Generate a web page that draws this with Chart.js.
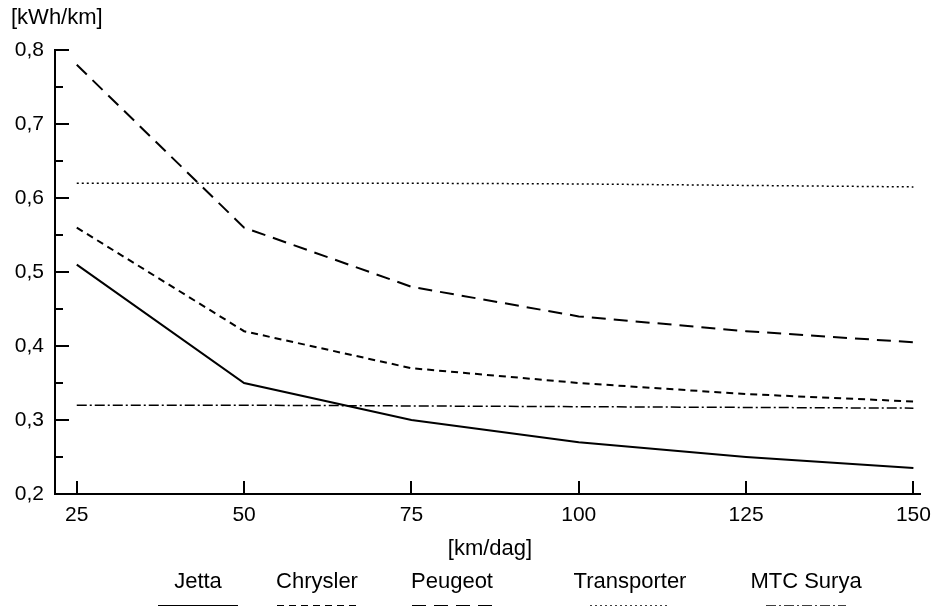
<!DOCTYPE html>
<html>
<head>
<meta charset="utf-8">
<script src="https://cdn.jsdelivr.net/npm/chart.js@4.4.1/dist/chart.umd.min.js"></script>
<style>
  html, body { margin: 0; padding: 0; background: #fff; }
  #wrap { width: 940px; height: 606px; }
</style>
</head>
<body>
<div id="wrap"><canvas id="myChart" width="940" height="606"></canvas></div>
<script>
// data
var kmPerDay = [25, 50, 75, 100, 125, 150];
var jetta = [0.51, 0.35, 0.30, 0.27, 0.25, 0.235];
var chrysler = [0.56, 0.42, 0.37, 0.35, 0.335, 0.325];
var peugeot = [0.78, 0.56, 0.48, 0.44, 0.42, 0.405];
var transporter = [0.62, 0.62, 0.62, 0.619, 0.617, 0.615];
var mtcSurya = [0.32, 0.32, 0.319, 0.318, 0.317, 0.316];

var seriesNames = ['Jetta', 'Chrysler', 'Peugeot', 'Transporter', 'MTC Surya'];
var xTicks = [25, 50, 75, 100, 125, 150];
var yTicks = [0.2, 0.3, 0.4, 0.5, 0.6, 0.7, 0.8];
var yMinorTicks = [0.25, 0.35, 0.45, 0.55, 0.65, 0.75];
var xTitle = '[km/dag]';
var yTitle = '[kWh/km]';

var FONT = '"Liberation Sans", Arial, sans-serif';

function points(values) {
  return values.map(function(v, i) { return { x: kmPerDay[i], y: v }; });
}

function line(label, values, dash, width) {
  return {
    label: label,
    data: points(values),
    borderColor: '#000',
    borderWidth: width,
    borderDash: dash,
    pointRadius: 0,
    tension: 0,
    fill: false
  };
}

// ticks pointing into the plot, axis titles and the legend underneath
var extras = {
  id: 'extras',
  afterDraw: function(chart) {
    var c = chart.ctx;
    var xs = chart.scales.x;
    var ys = chart.scales.y;
    var area = chart.chartArea;
    c.save();
    c.strokeStyle = '#000';
    c.lineWidth = 2;
    c.setLineDash([]);
    c.beginPath();
    xTicks.forEach(function(v) {
      var px = Math.round(xs.getPixelForValue(v));
      c.moveTo(px, area.bottom);
      c.lineTo(px, area.bottom - 13);
    });
    yTicks.forEach(function(v) {
      var py = Math.round(ys.getPixelForValue(v));
      c.moveTo(area.left, py);
      c.lineTo(area.left + 14, py);
    });
    yMinorTicks.forEach(function(v) {
      var py = Math.round(ys.getPixelForValue(v));
      c.moveTo(area.left, py);
      c.lineTo(area.left + 8, py);
    });
    c.stroke();

    c.fillStyle = '#000';
    c.font = '22px ' + FONT;
    c.textBaseline = 'middle';
    c.textAlign = 'left';
    c.fillText(yTitle, 11, 18);
    c.textAlign = 'center';
    c.fillText(xTitle, 490, 549);

    // legend
    var centers = [198, 317, 452, 630, 806];
    chart.data.datasets.forEach(function(ds, i) {
      c.fillText(ds.label, centers[i], 582);
      c.beginPath();
      c.lineWidth = ds.borderWidth;
      c.setLineDash(ds.borderDash);
      c.moveTo(centers[i] - 40, 606);
      c.lineTo(centers[i] + 40, 606);
      c.stroke();
    });
    c.restore();
  }
};

var ctx = document.getElementById('myChart').getContext('2d');

// eslint-disable-next-line no-unused-vars
var chart = new Chart(ctx, {
  type: 'line',
  data: {
    datasets: [
      line(seriesNames[0], jetta, [], 2),
      line(seriesNames[1], chrysler, [7, 5], 2),
      line(seriesNames[2], peugeot, [14, 8], 2),
      line(seriesNames[3], transporter, [2, 3], 1.5),
      line(seriesNames[4], mtcSurya, [10, 3, 2, 3], 1.5)
    ]
  },
  options: {
    responsive: false,
    animation: false,
    layout: { padding: { top: 50, right: 10, left: 0, bottom: 0 } },
    plugins: {
      legend: { display: false },
      tooltip: { enabled: false }
    },
    scales: {
      x: {
        type: 'linear',
        min: 21.75,
        max: 151,
        afterBuildTicks: function(s) { s.ticks = xTicks.map(function(v) { return { value: v }; }); },
        afterFit: function(s) { s.height = 112; },
        grid: { display: false, drawTicks: false },
        border: { display: true, color: '#000', width: 2 },
        ticks: {
          padding: 9,
          color: '#000',
          font: { family: FONT, size: 21 },
          maxRotation: 0
        }
      },
      y: {
        min: 0.2,
        max: 0.8,
        afterBuildTicks: function(s) { s.ticks = yTicks.map(function(v) { return { value: v }; }); },
        afterFit: function(s) { s.width = 55; },
        grid: { display: false, drawTicks: false },
        border: { display: true, color: '#000', width: 2 },
        ticks: {
          padding: 11,
          color: '#000',
          font: { family: FONT, size: 21 },
          callback: function(v) { return v.toFixed(1).replace('.', ','); }
        }
      }
    }
  },
  plugins: [extras]
});
</script>
</body>
</html>
